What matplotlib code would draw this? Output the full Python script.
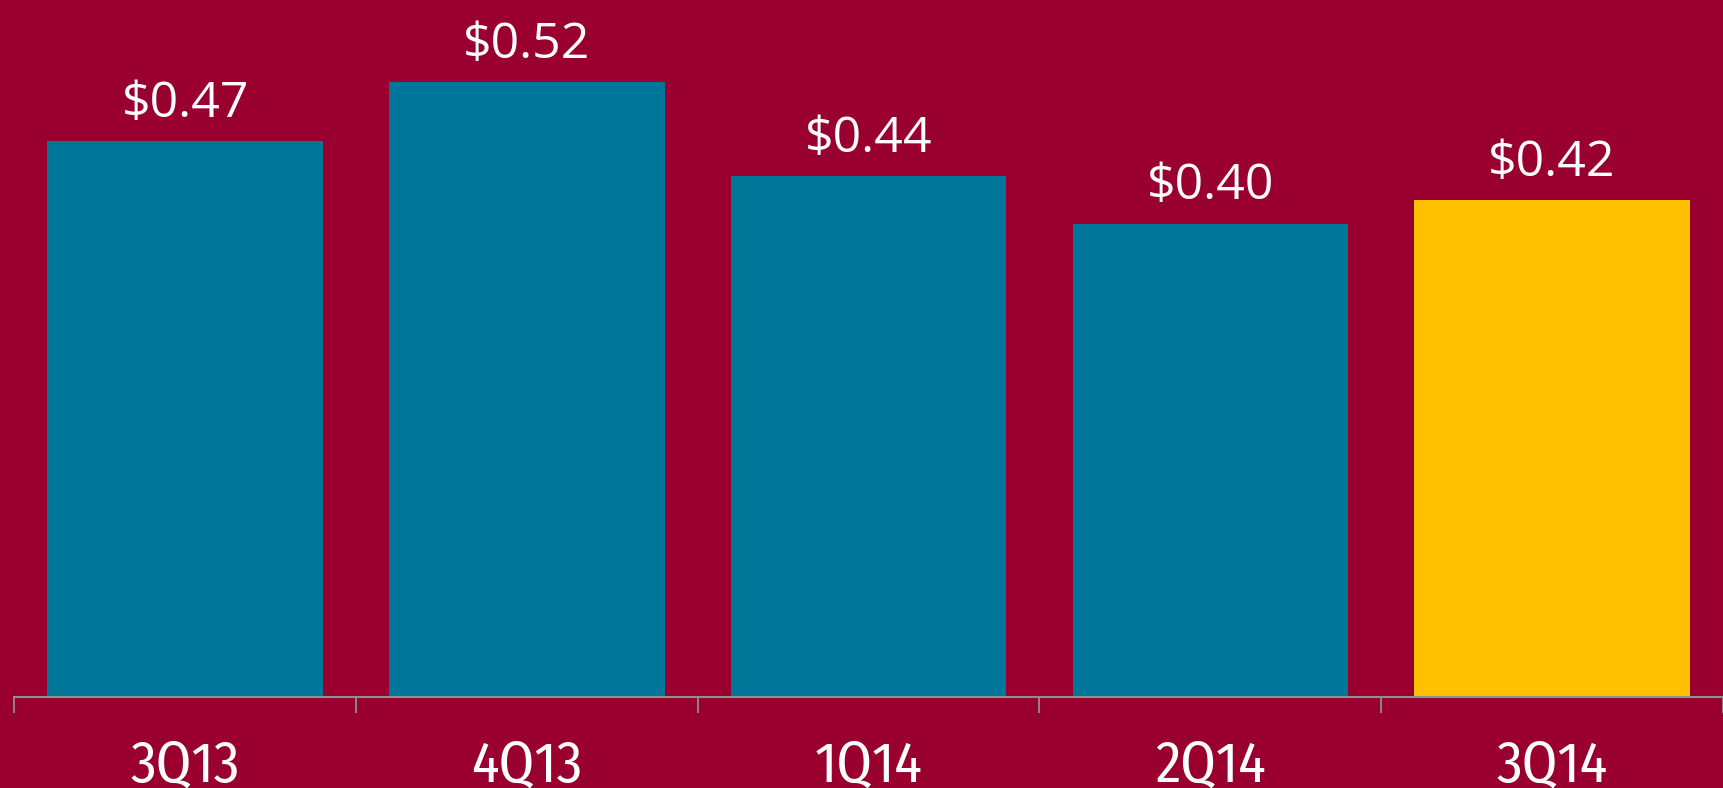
import matplotlib
matplotlib.use("Agg")
import matplotlib.pyplot as plt
import matplotlib.transforms as mtransforms
import numpy as np

categories = ["3Q13", "4Q13", "1Q14", "2Q14", "3Q14"]
values = [0.47, 0.52, 0.44, 0.40, 0.42]
value_labels = ["$0.47", "$0.52", "$0.44", "$0.40", "$0.42"]
bar_colors = ["#007799", "#007799", "#007799", "#007799", "#FFC000"]

BG = "#990030"
GRAY = "#8f8f8f"
W, H, DPI = 1723, 788, 100

plt.rcParams['font.family'] = ['Open Sans', 'DejaVu Sans']

fig = plt.figure(figsize=(W / DPI, H / DPI), dpi=DPI, facecolor=BG)
base_px = 91.3
ax = fig.add_axes([0, base_px / H, 1, 1 - base_px / H])
ax.set_facecolor(BG)

unit_px = 344.2
left = -0.5 - 14.3 / unit_px
ax.set_xlim(left, left + W / unit_px)
ax.set_ylim(0, (H - base_px) / 1183.0)

x = np.arange(len(categories))
ax.bar(x, values, width=0.806, color=bar_colors, zorder=2)

for xi, v, lab in zip(x, values, value_labels):
    ax.annotate(lab, (xi, v), xytext=(0, 17.3), textcoords='offset points',
                ha='center', va='baseline', color='white', fontsize=36,
                family=['Open Sans', 'DejaVu Sans'])

trans = mtransforms.blended_transform_factory(ax.transData, fig.transFigure)
for xi, c in zip(x, categories):
    ax.text(xi, 7 / H, c, transform=trans, ha='center', va='baseline',
            color='white', fontsize=41,
            family=['Fira Sans Condensed', 'Open Sans', 'DejaVu Sans'])

for s in ['top', 'right', 'left']:
    ax.spines[s].set_visible(False)
ax.spines['bottom'].set_color(GRAY)
ax.spines['bottom'].set_linewidth(1.5)
ax.spines['bottom'].set_bounds(-0.5, 10)
ax.set_yticks([])
ax.set_xticks(np.arange(len(categories) + 1) - 0.5)
ax.set_xticklabels([])
ax.tick_params(axis='x', direction='out', length=11.5, width=1.3, color=GRAY)

fig.savefig("out.png", dpi=DPI, facecolor=BG)
